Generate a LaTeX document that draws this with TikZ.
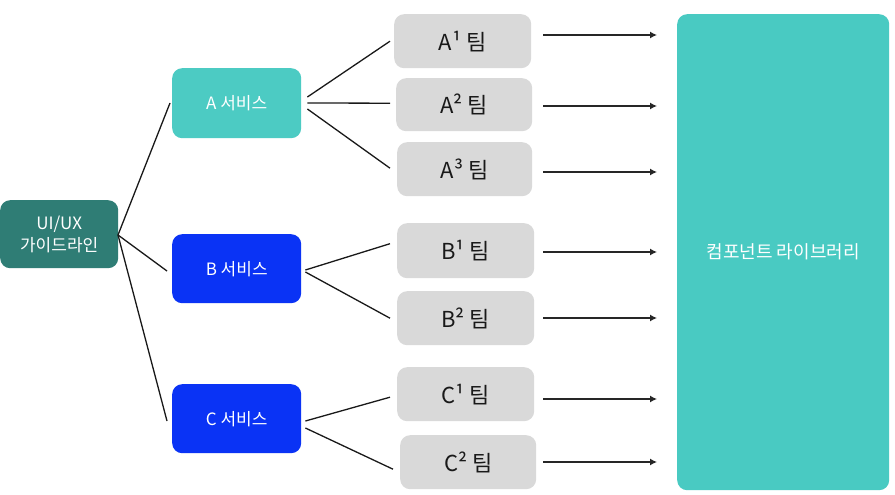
\documentclass[tikz,border=0pt]{standalone}
\usepackage{fontspec}
\setmainfont{Noto Sans CJK KR}
\usetikzlibrary{arrows.meta}
\definecolor{darkteal}{HTML}{2F7D75}
\definecolor{lightteal}{HTML}{4CCBC3}
\definecolor{svcblue}{HTML}{0A33F5}
\definecolor{teamgray}{HTML}{D9D9D9}
\definecolor{libteal}{HTML}{49CAC2}
\tikzset{
  box/.style={rounded corners=10pt, inner sep=0pt, anchor=north west},
  svc/.style={box, text=white, font=\fontsize{17}{19}\selectfont},
  team/.style={box, fill=teamgray, text=black!90, font=\fontsize{22}{24}\selectfont},
  link/.style={black!90, line width=1.3pt},
  arr/.style={black!85, line width=1.3pt, -{Latex[length=7pt,width=7pt]}}
}
\begin{document}
\begin{tikzpicture}[x=1pt,y=-1pt]
\useasboundingbox[fill=white] (0,0) rectangle (895,495);
% root
\node[box, fill=darkteal, text=white, minimum width=118pt, minimum height=68pt, align=center,
  font=\fontsize{17}{22}\selectfont] (ui) at (0,200) {UI/UX\\가이드라인};
% services
\node[svc, fill=lightteal, minimum width=129pt, minimum height=70pt] (sa) at (172,68) {A 서비스};
\node[svc, fill=svcblue, minimum width=129pt, minimum height=69pt] (sb) at (172,234) {B 서비스};
\node[svc, fill=svcblue, minimum width=129pt, minimum height=69pt] (sc) at (172,384) {C 서비스};
% teams
\node[team, minimum width=137pt, minimum height=54pt] (a1) at (394,14) {A¹ 팀};
\node[team, minimum width=136pt, minimum height=53pt] (a2) at (396,78) {A² 팀};
\node[team, minimum width=135pt, minimum height=54pt] (a3) at (397,142) {A³ 팀};
\node[team, minimum width=137pt, minimum height=55pt] (b1) at (397,223) {B¹ 팀};
\node[team, minimum width=137pt, minimum height=54pt] (b2) at (397,291) {B² 팀};
\node[team, minimum width=137pt, minimum height=54pt] (c1) at (397,367) {C¹ 팀};
\node[team, minimum width=136pt, minimum height=54pt] (c2) at (400,435) {C² 팀};
% library
\node[box, fill=libteal, text=white, minimum width=212pt, minimum height=476pt,
  font=\fontsize{18}{20}\selectfont] (lib) at (677,14) {컴포넌트 라이브러리};
% connectors root -> services
\coordinate (r0) at (118,235);
\draw[link] (r0) -- ([shift={(-2,35)}]sa.north west);
\draw[link] (r0) -- ([shift={(-5,37)}]sb.north west);
\draw[link] (r0) -- ([shift={(-5,37)}]sc.north west);
% services -> teams
\draw[link] ([shift={(6,29)}]sa.north east) -- ([shift={(-4,0)}]a1.west);
\draw[link] ([shift={(6,35)}]sa.north east) -- ([shift={(-6,-1.5)}]a2.west);
\draw[link] ([shift={(6,41)}]sa.north east) -- ([shift={(-7,-1)}]a3.west);
\draw[link] ([shift={(4,36)}]sb.north east) -- ([shift={(-7,-7)}]b1.west);
\draw[link] ([shift={(4,38)}]sb.north east) -- ([shift={(-7,0)}]b2.west);
\draw[link] ([shift={(4,37)}]sc.north east) -- ([shift={(-7,3)}]c1.west);
\draw[link] ([shift={(4,44)}]sc.north east) -- ([shift={(-7,7)}]c2.west);
% teams -> library
\foreach \t/\y in {a1/35,a2/106,a3/172,b1/252,b2/318,c1/399,c2/462}{
  \coordinate (e\t) at (657,\y);
  \draw[arr] (543,\y) -- (e\t);
}
\end{tikzpicture}
\end{document}
